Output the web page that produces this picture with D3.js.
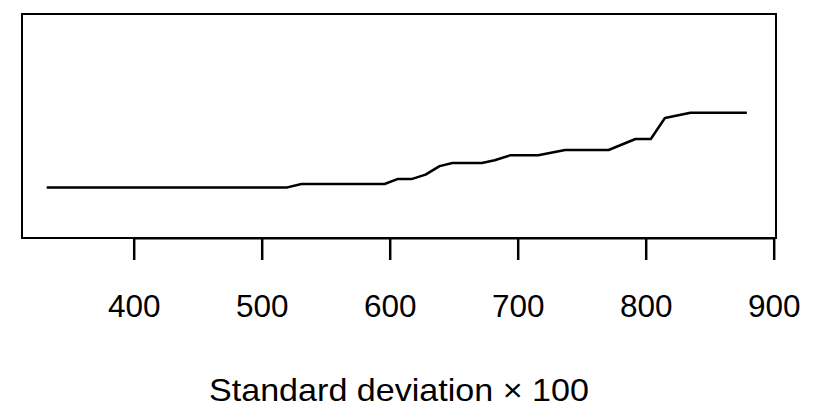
<!DOCTYPE html>
<html lang="en">
<head>
<meta charset="utf-8">
<title>Standard deviation line</title>
<script src="https://d3js.org/d3.v7.min.js"></script>
<style>
  body, html { margin: 0; background: #fff; }
  svg { display: block; font-family: "Liberation Sans", Arial, Helvetica, sans-serif; }
</style>
</head>
<body>
<svg width="814" height="410"></svg>
<script>
// data
var sdValues = [332, 520, 531, 596, 606, 617, 628, 639, 649, 672, 682, 694, 716, 737, 771, 792, 804, 815, 835, 879];
var yValues  = [22.6, 22.6, 24.1, 24.1, 26.3, 26.3, 28.3, 32.1, 33.5, 33.5, 34.7, 36.9, 36.9, 39.3, 39.3, 44.2, 44.2, 53.6, 55.9, 55.9];
var xTicks = [400, 500, 600, 700, 800, 900];
var xTitle = "Standard deviation \u00d7 100";

var svg = d3.select("svg");
var box = {left: 22, right: 776, top: 14, bottom: 238};

var x = d3.scaleLinear().domain([400, 900]).range([133.7, 773.7]);
var y = d3.scaleLinear().domain([0, 100]).range([box.bottom, box.bottom - 224]);

var pts = sdValues.map(function(d, i) { return [d, yValues[i]]; });

var line = d3.line()
  .x(function(d) { return x(d[0]); })
  .y(function(d) { return y(d[1]); });

svg.append("path")
  .datum(pts)
  .attr("d", line)
  .attr("fill", "none")
  .attr("stroke", "#000")
  .attr("stroke-width", 2.5)
  .attr("stroke-linejoin", "round");

// plot box
svg.append("rect")
  .attr("x", box.left)
  .attr("y", box.top)
  .attr("width", box.right - box.left)
  .attr("height", box.bottom - box.top)
  .attr("fill", "none")
  .attr("stroke", "#000")
  .attr("stroke-width", 2);

// x axis
var axis = svg.append("g")
  .attr("transform", "translate(0," + box.bottom + ")")
  .call(d3.axisBottom(x).tickValues(xTicks).tickSize(22).tickSizeOuter(0).tickFormat(d3.format("d")));
axis.select(".domain").attr("stroke-width", 2);
axis.selectAll(".tick line").attr("stroke-width", 2.5);
axis.selectAll(".tick text")
  .attr("y", 79)
  .attr("dy", null)
  .attr("font-size", 31.5)
  .attr("font-family", "Liberation Sans, Arial, sans-serif")
  .attr("fill", "#000");

svg.append("text")
  .attr("x", (box.left + box.right) / 2)
  .attr("y", 400.5)
  .attr("text-anchor", "middle")
  .attr("font-size", 31.5)
  .attr("textLength", 380)
  .attr("lengthAdjust", "spacingAndGlyphs")
  .text(xTitle);
</script>
</body>
</html>
